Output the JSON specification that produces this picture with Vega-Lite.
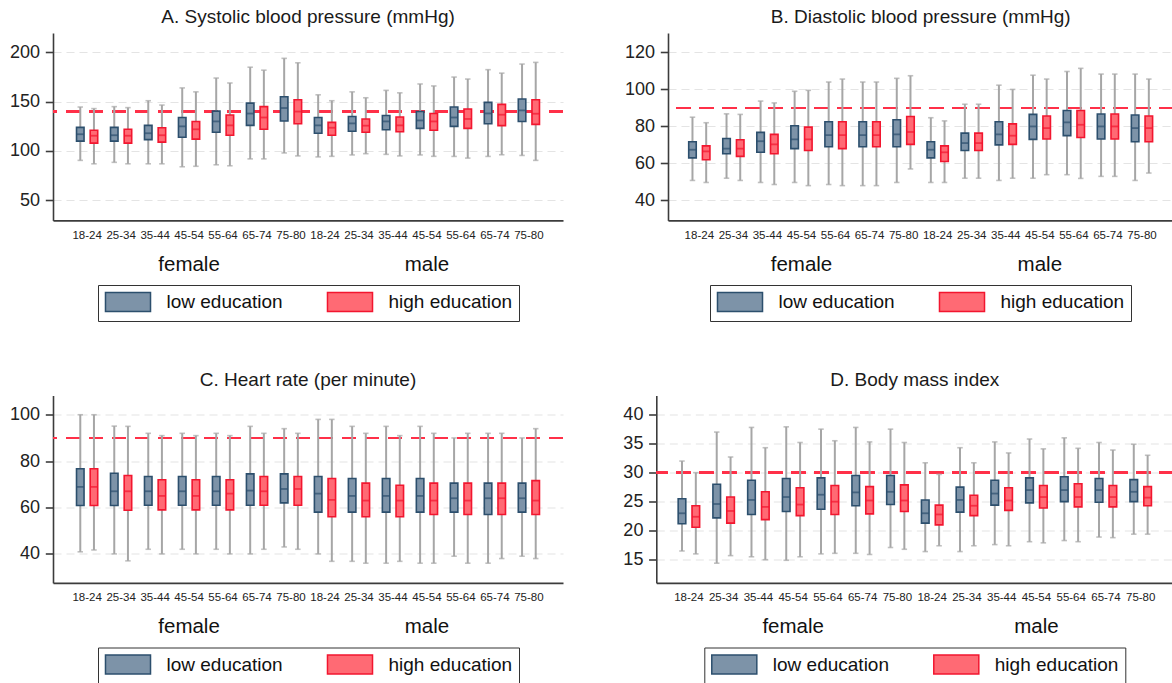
{
"$schema": "https://vega.github.io/schema/vega-lite/v6.json",
"padding": {"left": 9, "top": 8, "right": 0, "bottom": 0},
"datasets": {
"A": [
{"g":"female|18-24","e":"low education","lo":90.5,"q1":110,"md":117,"q3":124,"hi":144.6},
{"g":"female|18-24","e":"high education","lo":87,"q1":108,"md":115.5,"q3":121,"hi":143},
{"g":"female|25-34","e":"low education","lo":88.5,"q1":110,"md":116,"q3":124,"hi":145},
{"g":"female|25-34","e":"high education","lo":87,"q1":108,"md":115.5,"q3":122,"hi":144},
{"g":"female|35-44","e":"low education","lo":87,"q1":111.5,"md":118,"q3":126,"hi":151},
{"g":"female|35-44","e":"high education","lo":87,"q1":109,"md":116,"q3":123.6,"hi":146.6},
{"g":"female|45-54","e":"low education","lo":84,"q1":114,"md":125,"q3":134,"hi":164},
{"g":"female|45-54","e":"high education","lo":84.5,"q1":112,"md":122,"q3":130,"hi":160},
{"g":"female|55-64","e":"low education","lo":86,"q1":119,"md":130,"q3":140.5,"hi":174},
{"g":"female|55-64","e":"high education","lo":85,"q1":116,"md":126,"q3":136.5,"hi":169},
{"g":"female|65-74","e":"low education","lo":92,"q1":126,"md":138,"q3":148.6,"hi":185},
{"g":"female|65-74","e":"high education","lo":92,"q1":122,"md":134,"q3":145,"hi":182},
{"g":"female|75-80","e":"low education","lo":98,"q1":130.4,"md":143.6,"q3":155,"hi":194},
{"g":"female|75-80","e":"high education","lo":95,"q1":127.7,"md":140,"q3":152,"hi":189.5},
{"g":"male|18-24","e":"low education","lo":94,"q1":118,"md":126,"q3":134,"hi":157},
{"g":"male|18-24","e":"high education","lo":94.6,"q1":116,"md":123.6,"q3":129,"hi":151},
{"g":"male|25-34","e":"low education","lo":96,"q1":120,"md":128,"q3":135,"hi":160},
{"g":"male|25-34","e":"high education","lo":97.3,"q1":119,"md":125.7,"q3":132.4,"hi":154},
{"g":"male|35-44","e":"low education","lo":96.6,"q1":121.6,"md":130,"q3":136,"hi":161.5},
{"g":"male|35-44","e":"high education","lo":95,"q1":119.6,"md":126,"q3":134.5,"hi":159},
{"g":"male|45-54","e":"low education","lo":96,"q1":123,"md":131,"q3":140,"hi":168},
{"g":"male|45-54","e":"high education","lo":94.6,"q1":121,"md":130,"q3":138,"hi":166},
{"g":"male|55-64","e":"low education","lo":94.5,"q1":125,"md":134,"q3":144.6,"hi":175},
{"g":"male|55-64","e":"high education","lo":92.8,"q1":123,"md":132.5,"q3":142.6,"hi":173},
{"g":"male|65-74","e":"low education","lo":94.5,"q1":127.7,"md":138.1,"q3":149.3,"hi":182.5},
{"g":"male|65-74","e":"high education","lo":96.2,"q1":125.7,"md":136.8,"q3":147.3,"hi":179},
{"g":"male|75-80","e":"low education","lo":95.5,"q1":130,"md":141.2,"q3":152.7,"hi":188.2},
{"g":"male|75-80","e":"high education","lo":90.5,"q1":127,"md":137.8,"q3":152,"hi":189.9}
],
"B": [
{"g":"female|18-24","e":"low education","lo":50.8,"q1":63,"md":67.4,"q3":71.7,"hi":85},
{"g":"female|18-24","e":"high education","lo":49.7,"q1":62,"md":66.5,"q3":69.5,"hi":82},
{"g":"female|25-34","e":"low education","lo":52,"q1":65.2,"md":68,"q3":73.5,"hi":86.8},
{"g":"female|25-34","e":"high education","lo":50.8,"q1":63.8,"md":68,"q3":72.8,"hi":86.5},
{"g":"female|35-44","e":"low education","lo":49.7,"q1":66,"md":72,"q3":76.8,"hi":93.7},
{"g":"female|35-44","e":"high education","lo":48.6,"q1":65.2,"md":70.3,"q3":75.7,"hi":92.7},
{"g":"female|45-54","e":"low education","lo":49.7,"q1":68,"md":73,"q3":80.4,"hi":99},
{"g":"female|45-54","e":"high education","lo":48,"q1":67,"md":73,"q3":79.6,"hi":99.5},
{"g":"female|55-64","e":"low education","lo":48.6,"q1":69,"md":75.3,"q3":82.5,"hi":104},
{"g":"female|55-64","e":"high education","lo":48,"q1":68,"md":75.3,"q3":82.5,"hi":105.6},
{"g":"female|65-74","e":"low education","lo":48,"q1":69,"md":75.3,"q3":82.5,"hi":104},
{"g":"female|65-74","e":"high education","lo":48,"q1":69,"md":75.3,"q3":82.5,"hi":104},
{"g":"female|75-80","e":"low education","lo":49.7,"q1":69,"md":75.7,"q3":83.6,"hi":106},
{"g":"female|75-80","e":"high education","lo":57,"q1":70.3,"md":77,"q3":85.4,"hi":107.4},
{"g":"male|18-24","e":"low education","lo":49.7,"q1":63,"md":67.4,"q3":71.7,"hi":84.7},
{"g":"male|18-24","e":"high education","lo":49.7,"q1":61,"md":66,"q3":69.5,"hi":83},
{"g":"male|25-34","e":"low education","lo":52,"q1":67,"md":71,"q3":76.4,"hi":92},
{"g":"male|25-34","e":"high education","lo":52,"q1":67,"md":71,"q3":76.4,"hi":92},
{"g":"male|35-44","e":"low education","lo":50.8,"q1":70,"md":75.7,"q3":82.5,"hi":102.3},
{"g":"male|35-44","e":"high education","lo":52,"q1":70.3,"md":75,"q3":81.4,"hi":100},
{"g":"male|45-54","e":"low education","lo":52,"q1":73,"md":80,"q3":86.5,"hi":107.7},
{"g":"male|45-54","e":"high education","lo":53.9,"q1":73.2,"md":79.1,"q3":85.6,"hi":105.6},
{"g":"male|55-64","e":"low education","lo":53.9,"q1":75,"md":82.2,"q3":88.6,"hi":109.7},
{"g":"male|55-64","e":"high education","lo":51.9,"q1":74,"md":80.9,"q3":88.6,"hi":111.4},
{"g":"male|65-74","e":"low education","lo":53,"q1":73.2,"md":80,"q3":86.7,"hi":108.3},
{"g":"male|65-74","e":"high education","lo":53,"q1":73.2,"md":80,"q3":86.7,"hi":108.3},
{"g":"male|75-80","e":"low education","lo":50.8,"q1":71.7,"md":79.1,"q3":86.2,"hi":108.3},
{"g":"male|75-80","e":"high education","lo":54.8,"q1":71.7,"md":79.1,"q3":85.6,"hi":105.6}
],
"C": [
{"g":"female|18-24","e":"low education","lo":40.9,"q1":60.9,"md":68.9,"q3":76.7,"hi":100},
{"g":"female|18-24","e":"high education","lo":41.7,"q1":60.9,"md":68.9,"q3":76.7,"hi":100},
{"g":"female|25-34","e":"low education","lo":40,"q1":60.9,"md":67,"q3":74.8,"hi":95.1},
{"g":"female|25-34","e":"high education","lo":37,"q1":58.8,"md":67,"q3":73.8,"hi":95},
{"g":"female|35-44","e":"low education","lo":42,"q1":61,"md":67,"q3":73.4,"hi":92},
{"g":"female|35-44","e":"high education","lo":40,"q1":59,"md":65,"q3":72,"hi":91},
{"g":"female|45-54","e":"low education","lo":42,"q1":61,"md":67,"q3":73.4,"hi":92},
{"g":"female|45-54","e":"high education","lo":40,"q1":59,"md":65,"q3":72,"hi":91},
{"g":"female|55-64","e":"low education","lo":42,"q1":61,"md":67,"q3":73.4,"hi":92},
{"g":"female|55-64","e":"high education","lo":40,"q1":59,"md":66,"q3":72,"hi":91},
{"g":"female|65-74","e":"low education","lo":40,"q1":61,"md":67.3,"q3":74.5,"hi":95},
{"g":"female|65-74","e":"high education","lo":42,"q1":61,"md":67,"q3":73.4,"hi":92},
{"g":"female|75-80","e":"low education","lo":43,"q1":62,"md":68,"q3":74.5,"hi":94},
{"g":"female|75-80","e":"high education","lo":42,"q1":61,"md":68,"q3":73.4,"hi":92},
{"g":"male|18-24","e":"low education","lo":40,"q1":58,"md":66,"q3":73.4,"hi":98},
{"g":"male|18-24","e":"high education","lo":36.8,"q1":56,"md":63.3,"q3":72.5,"hi":98},
{"g":"male|25-34","e":"low education","lo":36.8,"q1":58,"md":65,"q3":72.5,"hi":95},
{"g":"male|25-34","e":"high education","lo":36,"q1":56,"md":63,"q3":70.5,"hi":92},
{"g":"male|35-44","e":"low education","lo":36,"q1":58,"md":65,"q3":72.5,"hi":95},
{"g":"male|35-44","e":"high education","lo":36.8,"q1":56,"md":63,"q3":69.6,"hi":91},
{"g":"male|45-54","e":"low education","lo":36,"q1":58,"md":65,"q3":72.5,"hi":95},
{"g":"male|45-54","e":"high education","lo":36,"q1":57,"md":63,"q3":70.5,"hi":92},
{"g":"male|55-64","e":"low education","lo":39,"q1":58,"md":64,"q3":70.5,"hi":90},
{"g":"male|55-64","e":"high education","lo":36,"q1":57,"md":63,"q3":70.5,"hi":92},
{"g":"male|65-74","e":"low education","lo":36,"q1":57,"md":64,"q3":70.5,"hi":92},
{"g":"male|65-74","e":"high education","lo":38,"q1":57,"md":64,"q3":70.5,"hi":92},
{"g":"male|75-80","e":"low education","lo":39,"q1":58,"md":64,"q3":70.5,"hi":90},
{"g":"male|75-80","e":"high education","lo":38,"q1":57,"md":63,"q3":71.6,"hi":94}
],
"D": [
{"g":"female|18-24","e":"low education","lo":16.5,"q1":21.2,"md":23,"q3":25.5,"hi":32},
{"g":"female|18-24","e":"high education","lo":16,"q1":20.6,"md":22.4,"q3":24.3,"hi":30},
{"g":"female|25-34","e":"low education","lo":14.4,"q1":22.2,"md":24.6,"q3":28,"hi":37},
{"g":"female|25-34","e":"high education","lo":15.7,"q1":21.3,"md":23.4,"q3":25.8,"hi":32.7},
{"g":"female|35-44","e":"low education","lo":15.5,"q1":22.8,"md":25.3,"q3":28.7,"hi":37.8},
{"g":"female|35-44","e":"high education","lo":15,"q1":21.9,"md":24.1,"q3":26.7,"hi":34.3},
{"g":"female|45-54","e":"low education","lo":14.9,"q1":23.3,"md":25.8,"q3":29,"hi":37.9},
{"g":"female|45-54","e":"high education","lo":15.5,"q1":22.6,"md":24.5,"q3":27.4,"hi":35.2},
{"g":"female|55-64","e":"low education","lo":16,"q1":23.7,"md":26.2,"q3":29.1,"hi":37.5},
{"g":"female|55-64","e":"high education","lo":16.1,"q1":22.8,"md":25,"q3":27.8,"hi":35.5},
{"g":"female|65-74","e":"low education","lo":16.1,"q1":24.3,"md":26.6,"q3":29.5,"hi":37.8},
{"g":"female|65-74","e":"high education","lo":15.9,"q1":22.9,"md":25.2,"q3":27.6,"hi":35.3},
{"g":"female|75-80","e":"low education","lo":17.1,"q1":24.5,"md":26.7,"q3":29.5,"hi":37.5},
{"g":"female|75-80","e":"high education","lo":16.8,"q1":23.3,"md":25.2,"q3":27.9,"hi":35.2},
{"g":"male|18-24","e":"low education","lo":16.4,"q1":21.3,"md":23,"q3":25.3,"hi":31.7},
{"g":"male|18-24","e":"high education","lo":17.4,"q1":21,"md":22.8,"q3":24.4,"hi":29.7},
{"g":"male|25-34","e":"low education","lo":16.4,"q1":23.2,"md":25.3,"q3":27.5,"hi":34.3},
{"g":"male|25-34","e":"high education","lo":17.4,"q1":22.6,"md":24.3,"q3":26.1,"hi":31.7},
{"g":"male|35-44","e":"low education","lo":17.6,"q1":24.4,"md":26.4,"q3":28.7,"hi":35.3},
{"g":"male|35-44","e":"high education","lo":17.4,"q1":23.5,"md":25.2,"q3":27.4,"hi":33.4},
{"g":"male|45-54","e":"low education","lo":18.1,"q1":24.8,"md":27,"q3":29.1,"hi":35.8},
{"g":"male|45-54","e":"high education","lo":17.9,"q1":23.9,"md":25.8,"q3":27.8,"hi":34.1},
{"g":"male|55-64","e":"low education","lo":18.3,"q1":25,"md":27,"q3":29.3,"hi":36},
{"g":"male|55-64","e":"high education","lo":18.1,"q1":24.1,"md":25.8,"q3":28.1,"hi":34.2},
{"g":"male|65-74","e":"low education","lo":18.9,"q1":24.9,"md":27,"q3":29,"hi":35.2},
{"g":"male|65-74","e":"high education","lo":18.8,"q1":24.1,"md":25.8,"q3":27.8,"hi":33.9},
{"g":"male|75-80","e":"low education","lo":19.4,"q1":25,"md":26.7,"q3":28.8,"hi":34.9},
{"g":"male|75-80","e":"high education","lo":19.4,"q1":24.3,"md":25.7,"q3":27.6,"hi":33}
]
},
"spacing": 48.5,
"resolve": {"scale": {"fill": "independent", "stroke": "independent", "color": "independent", "x": "independent", "y": "independent", "xOffset": "independent"}, "legend": {"fill": "independent", "stroke": "independent", "color": "independent"}},
"vconcat": [
{"spacing": 60,
 "resolve": {"scale": {"fill": "independent", "stroke": "independent", "color": "independent", "x": "independent", "y": "independent", "xOffset": "independent"}, "legend": {"fill": "independent", "stroke": "independent", "color": "independent"}},
 "hconcat": [
 {"title": {"text": "A. Systolic blood pressure (mmHg)"},
  "width": 510, "height": 187.4, "data": {"name": "A"},
  "resolve": {"axis": {"x": "independent"}},
  "layer": [
   {"mark": {"type": "rule", "color": "#ff3048", "strokeWidth": 2, "strokeDash": [14, 9]},
    "encoding": {"y": {"datum": 140, "type": "quantitative", "scale": {"domain": [29.6, 219.7], "nice": false, "zero": false}, "axis": {"title": null, "values": [50, 100, 150, 200]}}}},
   {"mark": {"type": "rule", "color": "#a6a6a6", "strokeWidth": 2},
    "encoding": {
     "x": {"field": "g", "type": "nominal", "scale": {"paddingInner": 0, "paddingOuter": 0.504}, "axis": {"orient": "bottom", "title": null, "ticks": false, "grid": false, "domain": true, "domainColor": "#3c3c3c", "domainWidth": 1.6, "labelAngle": 0, "labelPadding": 8.7, "labelFontSize": 11.5, "labelFont": "Liberation Sans", "labelColor": "#222", "labelOverlap": false, "labelExpr": "split(datum.value,'|')[1]"}},
     "xOffset": {"field": "e", "type": "nominal", "sort": ["low education", "high education"], "scale": {"paddingInner": 0.45, "paddingOuter": 0.4675}},
     "y": {"field": "lo", "type": "quantitative", "scale": {"domain": [29.6, 219.7], "nice": false, "zero": false}, "axis": {"title": null, "values": [50, 100, 150, 200]}},
     "y2": {"field": "hi"}}},
   {"mark": {"type": "tick", "orient": "horizontal", "color": "#a6a6a6", "size": 5.5, "thickness": 1.6},
    "encoding": {"x": {"field": "g", "type": "nominal", "axis": null}, "xOffset": {"field": "e", "type": "nominal", "sort": ["low education", "high education"]},
     "y": {"field": "lo", "type": "quantitative", "scale": {"domain": [29.6, 219.7], "nice": false, "zero": false}, "axis": {"title": null, "values": [50, 100, 150, 200]}}}},
   {"mark": {"type": "tick", "orient": "horizontal", "color": "#a6a6a6", "size": 5.5, "thickness": 1.6},
    "encoding": {"x": {"field": "g", "type": "nominal", "axis": null}, "xOffset": {"field": "e", "type": "nominal", "sort": ["low education", "high education"]},
     "y": {"field": "hi", "type": "quantitative", "scale": {"domain": [29.6, 219.7], "nice": false, "zero": false}, "axis": {"title": null, "values": [50, 100, 150, 200]}}}},
   {"mark": {"type": "bar", "strokeWidth": 1.6, "opacity": 1},
    "encoding": {"x": {"field": "g", "type": "nominal", "axis": null}, "xOffset": {"field": "e", "type": "nominal", "sort": ["low education", "high education"]},
     "y": {"field": "q1", "type": "quantitative", "scale": {"domain": [29.6, 219.7], "nice": false, "zero": false}, "axis": {"title": null, "values": [50, 100, 150, 200]}}, "y2": {"field": "q3"},
     "fill": {"field": "e", "type": "nominal", "scale": {"domain": ["low education", "high education"], "range": ["#7d93a8", "#ff6a74"]}, "legend": {"title": null, "orient": "bottom", "direction": "horizontal", "offset": 9.5, "padding": 6.5, "strokeColor": "#333", "symbolType": "M-2.37,-1H2.37V1H-2.37Z", "symbolSize": 361, "symbolStrokeWidth": 1.5, "symbolOffset": 13, "labelOffset": 28, "columnPadding": 40, "labelFontSize": 19, "labelFont": "Liberation Sans", "labelColor": "#111", "labelLimit": 300}},
     "stroke": {"field": "e", "type": "nominal", "scale": {"domain": ["low education", "high education"], "range": ["#2c4f6d", "#f2162f"]}, "legend": {"title": null, "orient": "bottom", "direction": "horizontal", "offset": 9.5, "padding": 6.5, "strokeColor": "#333", "symbolType": "M-2.37,-1H2.37V1H-2.37Z", "symbolSize": 361, "symbolStrokeWidth": 1.5, "symbolOffset": 13, "labelOffset": 28, "columnPadding": 40, "labelFontSize": 19, "labelFont": "Liberation Sans", "labelColor": "#111", "labelLimit": 300}}}},
   {"mark": {"type": "tick", "orient": "horizontal", "size": 7.5, "thickness": 1.8},
    "encoding": {"x": {"field": "g", "type": "nominal", "axis": {"orient": "bottom", "offset": 24, "title": null, "ticks": false, "grid": false, "domain": false, "labelAngle": 0, "labelPadding": 9.8, "labelFontSize": 20.5, "labelFont": "Liberation Sans", "labelColor": "#111", "labelOverlap": false, "labelBound": false, "labelExpr": "datum.value=='female|45-54'?'female':datum.value=='male|45-54'?'male':''"}},
     "xOffset": {"field": "e", "type": "nominal", "sort": ["low education", "high education"]},
     "y": {"field": "md", "type": "quantitative", "scale": {"domain": [29.6, 219.7], "nice": false, "zero": false}, "axis": {"title": null, "values": [50, 100, 150, 200]}},
     "color": {"field": "e", "type": "nominal", "scale": {"domain": ["low education", "high education"], "range": ["#2c4f6d", "#f2162f"]}, "legend": null}}}
  ]},
 {"title": {"text": "B. Diastolic blood pressure (mmHg)"},
  "width": 505.3, "height": 187.4, "data": {"name": "B"},
  "resolve": {"axis": {"x": "independent"}},
  "layer": [
   {"mark": {"type": "rule", "color": "#ff3048", "strokeWidth": 2, "strokeDash": [14, 9]},
    "encoding": {"y": {"datum": 90, "type": "quantitative", "scale": {"domain": [29.2, 130.5], "nice": false, "zero": false}, "axis": {"title": null, "values": [40, 60, 80, 100, 120]}}}},
   {"mark": {"type": "rule", "color": "#a6a6a6", "strokeWidth": 2},
    "encoding": {
     "x": {"field": "g", "type": "nominal", "scale": {"paddingInner": 0, "paddingOuter": 0.42}, "axis": {"orient": "bottom", "title": null, "ticks": false, "grid": false, "domain": true, "domainColor": "#3c3c3c", "domainWidth": 1.6, "labelAngle": 0, "labelPadding": 8.7, "labelFontSize": 11.5, "labelFont": "Liberation Sans", "labelColor": "#222", "labelOverlap": false, "labelExpr": "split(datum.value,'|')[1]"}},
     "xOffset": {"field": "e", "type": "nominal", "sort": ["low education", "high education"], "scale": {"paddingInner": 0.45, "paddingOuter": 0.4675}},
     "y": {"field": "lo", "type": "quantitative", "scale": {"domain": [29.2, 130.5], "nice": false, "zero": false}, "axis": {"title": null, "values": [40, 60, 80, 100, 120]}},
     "y2": {"field": "hi"}}},
   {"mark": {"type": "tick", "orient": "horizontal", "color": "#a6a6a6", "size": 5.5, "thickness": 1.6},
    "encoding": {"x": {"field": "g", "type": "nominal", "axis": null}, "xOffset": {"field": "e", "type": "nominal", "sort": ["low education", "high education"]},
     "y": {"field": "lo", "type": "quantitative", "scale": {"domain": [29.2, 130.5], "nice": false, "zero": false}, "axis": {"title": null, "values": [40, 60, 80, 100, 120]}}}},
   {"mark": {"type": "tick", "orient": "horizontal", "color": "#a6a6a6", "size": 5.5, "thickness": 1.6},
    "encoding": {"x": {"field": "g", "type": "nominal", "axis": null}, "xOffset": {"field": "e", "type": "nominal", "sort": ["low education", "high education"]},
     "y": {"field": "hi", "type": "quantitative", "scale": {"domain": [29.2, 130.5], "nice": false, "zero": false}, "axis": {"title": null, "values": [40, 60, 80, 100, 120]}}}},
   {"mark": {"type": "bar", "strokeWidth": 1.6, "opacity": 1},
    "encoding": {"x": {"field": "g", "type": "nominal", "axis": null}, "xOffset": {"field": "e", "type": "nominal", "sort": ["low education", "high education"]},
     "y": {"field": "q1", "type": "quantitative", "scale": {"domain": [29.2, 130.5], "nice": false, "zero": false}, "axis": {"title": null, "values": [40, 60, 80, 100, 120]}}, "y2": {"field": "q3"},
     "fill": {"field": "e", "type": "nominal", "scale": {"domain": ["low education", "high education"], "range": ["#7d93a8", "#ff6a74"]}, "legend": {"title": null, "orient": "bottom", "direction": "horizontal", "offset": 9.5, "padding": 6.5, "strokeColor": "#333", "symbolType": "M-2.37,-1H2.37V1H-2.37Z", "symbolSize": 361, "symbolStrokeWidth": 1.5, "symbolOffset": 13, "labelOffset": 28, "columnPadding": 40, "labelFontSize": 19, "labelFont": "Liberation Sans", "labelColor": "#111", "labelLimit": 300}},
     "stroke": {"field": "e", "type": "nominal", "scale": {"domain": ["low education", "high education"], "range": ["#2c4f6d", "#f2162f"]}, "legend": {"title": null, "orient": "bottom", "direction": "horizontal", "offset": 9.5, "padding": 6.5, "strokeColor": "#333", "symbolType": "M-2.37,-1H2.37V1H-2.37Z", "symbolSize": 361, "symbolStrokeWidth": 1.5, "symbolOffset": 13, "labelOffset": 28, "columnPadding": 40, "labelFontSize": 19, "labelFont": "Liberation Sans", "labelColor": "#111", "labelLimit": 300}}}},
   {"mark": {"type": "tick", "orient": "horizontal", "size": 7.5, "thickness": 1.8},
    "encoding": {"x": {"field": "g", "type": "nominal", "axis": {"orient": "bottom", "offset": 24, "title": null, "ticks": false, "grid": false, "domain": false, "labelAngle": 0, "labelPadding": 9.8, "labelFontSize": 20.5, "labelFont": "Liberation Sans", "labelColor": "#111", "labelOverlap": false, "labelBound": false, "labelExpr": "datum.value=='female|45-54'?'female':datum.value=='male|45-54'?'male':''"}},
     "xOffset": {"field": "e", "type": "nominal", "sort": ["low education", "high education"]},
     "y": {"field": "md", "type": "quantitative", "scale": {"domain": [29.2, 130.5], "nice": false, "zero": false}, "axis": {"title": null, "values": [40, 60, 80, 100, 120]}},
     "color": {"field": "e", "type": "nominal", "scale": {"domain": ["low education", "high education"], "range": ["#2c4f6d", "#f2162f"]}, "legend": null}}}
  ]}
 ]},
{"spacing": 58.3,
 "resolve": {"scale": {"fill": "independent", "stroke": "independent", "color": "independent", "x": "independent", "y": "independent", "xOffset": "independent"}, "legend": {"fill": "independent", "stroke": "independent", "color": "independent"}},
 "hconcat": [
 {"title": {"text": "C. Heart rate (per minute)"},
  "width": 510, "height": 187.4, "data": {"name": "C"},
  "resolve": {"axis": {"x": "independent"}},
  "layer": [
   {"mark": {"type": "rule", "color": "#ff3048", "strokeWidth": 2, "strokeDash": [14, 9]},
    "encoding": {"y": {"datum": 90, "type": "quantitative", "scale": {"domain": [27.5, 108.3], "nice": false, "zero": false}, "axis": {"title": null, "values": [40, 60, 80, 100]}}}},
   {"mark": {"type": "rule", "color": "#a6a6a6", "strokeWidth": 2},
    "encoding": {
     "x": {"field": "g", "type": "nominal", "scale": {"paddingInner": 0, "paddingOuter": 0.504}, "axis": {"orient": "bottom", "title": null, "ticks": false, "grid": false, "domain": true, "domainColor": "#3c3c3c", "domainWidth": 1.6, "labelAngle": 0, "labelPadding": 8.7, "labelFontSize": 11.5, "labelFont": "Liberation Sans", "labelColor": "#222", "labelOverlap": false, "labelExpr": "split(datum.value,'|')[1]"}},
     "xOffset": {"field": "e", "type": "nominal", "sort": ["low education", "high education"], "scale": {"paddingInner": 0.45, "paddingOuter": 0.4675}},
     "y": {"field": "lo", "type": "quantitative", "scale": {"domain": [27.5, 108.3], "nice": false, "zero": false}, "axis": {"title": null, "values": [40, 60, 80, 100]}},
     "y2": {"field": "hi"}}},
   {"mark": {"type": "tick", "orient": "horizontal", "color": "#a6a6a6", "size": 5.5, "thickness": 1.6},
    "encoding": {"x": {"field": "g", "type": "nominal", "axis": null}, "xOffset": {"field": "e", "type": "nominal", "sort": ["low education", "high education"]},
     "y": {"field": "lo", "type": "quantitative", "scale": {"domain": [27.5, 108.3], "nice": false, "zero": false}, "axis": {"title": null, "values": [40, 60, 80, 100]}}}},
   {"mark": {"type": "tick", "orient": "horizontal", "color": "#a6a6a6", "size": 5.5, "thickness": 1.6},
    "encoding": {"x": {"field": "g", "type": "nominal", "axis": null}, "xOffset": {"field": "e", "type": "nominal", "sort": ["low education", "high education"]},
     "y": {"field": "hi", "type": "quantitative", "scale": {"domain": [27.5, 108.3], "nice": false, "zero": false}, "axis": {"title": null, "values": [40, 60, 80, 100]}}}},
   {"mark": {"type": "bar", "strokeWidth": 1.6, "opacity": 1},
    "encoding": {"x": {"field": "g", "type": "nominal", "axis": null}, "xOffset": {"field": "e", "type": "nominal", "sort": ["low education", "high education"]},
     "y": {"field": "q1", "type": "quantitative", "scale": {"domain": [27.5, 108.3], "nice": false, "zero": false}, "axis": {"title": null, "values": [40, 60, 80, 100]}}, "y2": {"field": "q3"},
     "fill": {"field": "e", "type": "nominal", "scale": {"domain": ["low education", "high education"], "range": ["#7d93a8", "#ff6a74"]}, "legend": {"title": null, "orient": "bottom", "direction": "horizontal", "offset": 9.5, "padding": 6.5, "strokeColor": "#333", "symbolType": "M-2.37,-1H2.37V1H-2.37Z", "symbolSize": 361, "symbolStrokeWidth": 1.5, "symbolOffset": 13, "labelOffset": 28, "columnPadding": 40, "labelFontSize": 19, "labelFont": "Liberation Sans", "labelColor": "#111", "labelLimit": 300}},
     "stroke": {"field": "e", "type": "nominal", "scale": {"domain": ["low education", "high education"], "range": ["#2c4f6d", "#f2162f"]}, "legend": {"title": null, "orient": "bottom", "direction": "horizontal", "offset": 9.5, "padding": 6.5, "strokeColor": "#333", "symbolType": "M-2.37,-1H2.37V1H-2.37Z", "symbolSize": 361, "symbolStrokeWidth": 1.5, "symbolOffset": 13, "labelOffset": 28, "columnPadding": 40, "labelFontSize": 19, "labelFont": "Liberation Sans", "labelColor": "#111", "labelLimit": 300}}}},
   {"mark": {"type": "tick", "orient": "horizontal", "size": 7.5, "thickness": 1.8},
    "encoding": {"x": {"field": "g", "type": "nominal", "axis": {"orient": "bottom", "offset": 24, "title": null, "ticks": false, "grid": false, "domain": false, "labelAngle": 0, "labelPadding": 9.8, "labelFontSize": 20.5, "labelFont": "Liberation Sans", "labelColor": "#111", "labelOverlap": false, "labelBound": false, "labelExpr": "datum.value=='female|45-54'?'female':datum.value=='male|45-54'?'male':''"}},
     "xOffset": {"field": "e", "type": "nominal", "sort": ["low education", "high education"]},
     "y": {"field": "md", "type": "quantitative", "scale": {"domain": [27.5, 108.3], "nice": false, "zero": false}, "axis": {"title": null, "values": [40, 60, 80, 100]}},
     "color": {"field": "e", "type": "nominal", "scale": {"domain": ["low education", "high education"], "range": ["#2c4f6d", "#f2162f"]}, "legend": null}}}
  ]},
 {"title": {"text": "D. Body mass index"},
  "width": 517, "height": 187.4, "data": {"name": "D"},
  "resolve": {"axis": {"x": "independent"}},
  "layer": [
   {"mark": {"type": "rule", "color": "#ff3048", "strokeWidth": 2, "strokeDash": [14, 9]},
    "encoding": {"y": {"datum": 30, "type": "quantitative", "scale": {"domain": [11, 43.3], "nice": false, "zero": false}, "axis": {"title": null, "values": [15, 20, 25, 30, 35, 40]}}}},
   {"mark": {"type": "rule", "color": "#a6a6a6", "strokeWidth": 2},
    "encoding": {
     "x": {"field": "g", "type": "nominal", "scale": {"paddingInner": 0, "paddingOuter": 0.438}, "axis": {"orient": "bottom", "title": null, "ticks": false, "grid": false, "domain": true, "domainColor": "#3c3c3c", "domainWidth": 1.6, "labelAngle": 0, "labelPadding": 8.7, "labelFontSize": 11.5, "labelFont": "Liberation Sans", "labelColor": "#222", "labelOverlap": false, "labelExpr": "split(datum.value,'|')[1]"}},
     "xOffset": {"field": "e", "type": "nominal", "sort": ["low education", "high education"], "scale": {"paddingInner": 0.45, "paddingOuter": 0.48}},
     "y": {"field": "lo", "type": "quantitative", "scale": {"domain": [11, 43.3], "nice": false, "zero": false}, "axis": {"title": null, "values": [15, 20, 25, 30, 35, 40]}},
     "y2": {"field": "hi"}}},
   {"mark": {"type": "tick", "orient": "horizontal", "color": "#a6a6a6", "size": 5.5, "thickness": 1.6},
    "encoding": {"x": {"field": "g", "type": "nominal", "axis": null}, "xOffset": {"field": "e", "type": "nominal", "sort": ["low education", "high education"]},
     "y": {"field": "lo", "type": "quantitative", "scale": {"domain": [11, 43.3], "nice": false, "zero": false}, "axis": {"title": null, "values": [15, 20, 25, 30, 35, 40]}}}},
   {"mark": {"type": "tick", "orient": "horizontal", "color": "#a6a6a6", "size": 5.5, "thickness": 1.6},
    "encoding": {"x": {"field": "g", "type": "nominal", "axis": null}, "xOffset": {"field": "e", "type": "nominal", "sort": ["low education", "high education"]},
     "y": {"field": "hi", "type": "quantitative", "scale": {"domain": [11, 43.3], "nice": false, "zero": false}, "axis": {"title": null, "values": [15, 20, 25, 30, 35, 40]}}}},
   {"mark": {"type": "bar", "strokeWidth": 1.6, "opacity": 1},
    "encoding": {"x": {"field": "g", "type": "nominal", "axis": null}, "xOffset": {"field": "e", "type": "nominal", "sort": ["low education", "high education"]},
     "y": {"field": "q1", "type": "quantitative", "scale": {"domain": [11, 43.3], "nice": false, "zero": false}, "axis": {"title": null, "values": [15, 20, 25, 30, 35, 40]}}, "y2": {"field": "q3"},
     "fill": {"field": "e", "type": "nominal", "scale": {"domain": ["low education", "high education"], "range": ["#7d93a8", "#ff6a74"]}, "legend": {"title": null, "orient": "bottom", "direction": "horizontal", "offset": 9.5, "padding": 6.5, "strokeColor": "#333", "symbolType": "M-2.37,-1H2.37V1H-2.37Z", "symbolSize": 361, "symbolStrokeWidth": 1.5, "symbolOffset": 13, "labelOffset": 28, "columnPadding": 40, "labelFontSize": 19, "labelFont": "Liberation Sans", "labelColor": "#111", "labelLimit": 300}},
     "stroke": {"field": "e", "type": "nominal", "scale": {"domain": ["low education", "high education"], "range": ["#2c4f6d", "#f2162f"]}, "legend": {"title": null, "orient": "bottom", "direction": "horizontal", "offset": 9.5, "padding": 6.5, "strokeColor": "#333", "symbolType": "M-2.37,-1H2.37V1H-2.37Z", "symbolSize": 361, "symbolStrokeWidth": 1.5, "symbolOffset": 13, "labelOffset": 28, "columnPadding": 40, "labelFontSize": 19, "labelFont": "Liberation Sans", "labelColor": "#111", "labelLimit": 300}}}},
   {"mark": {"type": "tick", "orient": "horizontal", "size": 7.5, "thickness": 1.8},
    "encoding": {"x": {"field": "g", "type": "nominal", "axis": {"orient": "bottom", "offset": 24, "title": null, "ticks": false, "grid": false, "domain": false, "labelAngle": 0, "labelPadding": 9.8, "labelFontSize": 20.5, "labelFont": "Liberation Sans", "labelColor": "#111", "labelOverlap": false, "labelBound": false, "labelExpr": "datum.value=='female|45-54'?'female':datum.value=='male|45-54'?'male':''"}},
     "xOffset": {"field": "e", "type": "nominal", "sort": ["low education", "high education"]},
     "y": {"field": "md", "type": "quantitative", "scale": {"domain": [11, 43.3], "nice": false, "zero": false}, "axis": {"title": null, "values": [15, 20, 25, 30, 35, 40]}},
     "color": {"field": "e", "type": "nominal", "scale": {"domain": ["low education", "high education"], "range": ["#2c4f6d", "#f2162f"]}, "legend": null}}}
  ]}
 ]}
],
"config": {
 "view": {"stroke": null},
 "background": "#ffffff",
 "title": {"fontSize": 19, "fontWeight": "normal", "font": "Liberation Sans", "color": "#1a1a1a", "offset": 6, "anchor": "middle", "frame": "group"},
 "axisY": {"grid": true, "gridDash": [8, 5], "gridColor": "#e4e4e4", "gridWidth": 1.2, "domainColor": "#3c3c3c", "domainWidth": 1.6, "tickColor": "#3c3c3c", "tickSize": 7.7, "tickWidth": 1.6, "labelFontSize": 18, "labelFont": "Liberation Sans", "labelColor": "#222", "labelPadding": 5.7},
 "legend": {"layout": {"bottom": {"anchor": "middle"}}}
}
}
